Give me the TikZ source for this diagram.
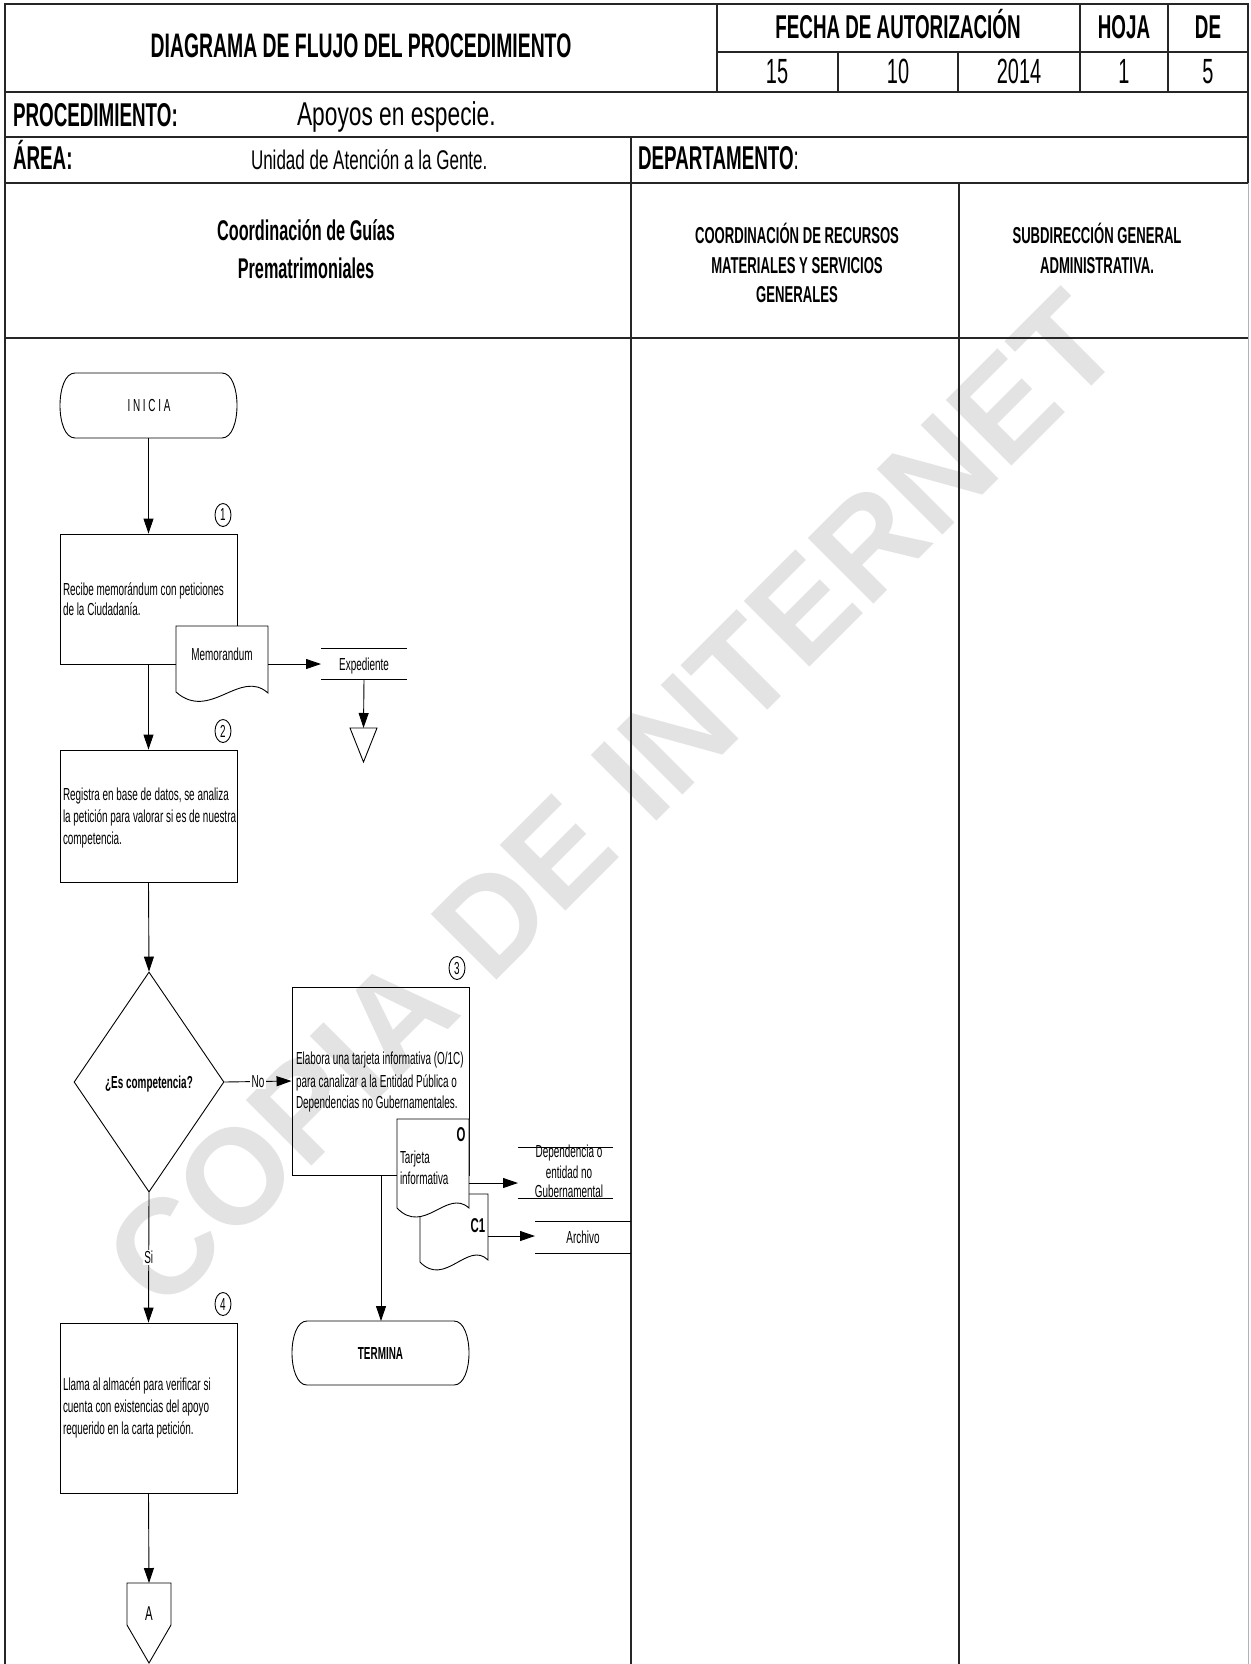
\documentclass[tikz,border=0pt]{standalone}
\usepackage{fontspec}
\setmainfont{Liberation Sans}[FakeStretch=0.57]
\newfontfamily\wmfont{Liberation Sans}
\newfontfamily\apfont{Liberation Sans}[FakeStretch=0.69]
\newfontfamily\unfont{Liberation Sans}[FakeStretch=0.63]
\usetikzlibrary{arrows.meta,shapes.geometric}
\tikzset{
  tbl/.style={line width=1.7pt,draw=black!85},
  ln/.style={line width=0.9pt,draw=black},
  arr/.style={ln,-{Triangle[length=15pt,width=10pt]}},
  boxn/.style={ln,rectangle,minimum width=177pt,inner sep=0pt},
  invis/.style={inner sep=0pt,outer sep=0pt},
  big/.style={invis,font=\fontsize{33}{35}\selectfont\bfseries},
  bigr/.style={invis,font=\fontsize{35}{37}\selectfont},
  lane/.style={invis,anchor=base,font=\fontsize{23}{25}\selectfont\bfseries},
  sm/.style={invis,anchor=base west,font=\fontsize{17.4}{19}\selectfont},
  smc/.style={invis,anchor=base,font=\fontsize{17.4}{19}\selectfont},
  smb/.style={invis,anchor=base,font=\fontsize{17.4}{19}\selectfont\bfseries},
  circ/.style={ln,ellipse,minimum width=16pt,minimum height=23pt,inner sep=0pt,font=\fontsize{17.4}{19}\selectfont},
  docf/.style={ln,fill=white},
  lab/.style={fill=white,inner sep=1.5pt,font=\fontsize{17.4}{19}\selectfont},
  termn/.style={invis,minimum width=177pt},
}
\begin{document}
\begin{tikzpicture}[x=1pt,y=-1pt]
\useasboundingbox (0,0) rectangle (1250,1664);
% watermark
\node[rotate=45,text=black!11,font=\wmfont\fontsize{135}{135}\selectfont\bfseries] (wm) at (612,800) {COPIA DE INTERNET};
% table
\draw[tbl] (5,4) rectangle (1248,92);
\draw[tbl] (717,4) -- (717,92);
\draw[tbl] (717,52) -- (1248,52);
\draw[tbl] (838,52) -- (838,92);
\draw[tbl] (958,52) -- (958,92);
\draw[tbl] (1080,4) -- (1080,92);
\draw[tbl] (1168,4) -- (1168,92);
\draw[tbl] (5,92) -- (5,1664);
\draw[tbl] (1248,92) -- (1248,183);
\draw[black!30,line width=0.8pt] (1248,183) -- (1248,1664);
\draw[tbl] (5,137) -- (1248,137);
\draw[tbl] (5,183) -- (1248,183);
\draw[tbl] (5,338) -- (1248,338);
\draw[tbl] (631,137) -- (631,1664);
\draw[tbl] (959,183) -- (959,1664);
% header texts
\node[invis,anchor=base,font=\fontsize{34}{36}\selectfont\bfseries] (title) at (361,58) {DIAGRAMA DE FLUJO DEL PROCEDIMIENTO};
\node[big,anchor=base] (fecha) at (898,39) {FECHA DE AUTORIZACIÓN};
\node[big,anchor=base] (hoja) at (1124,39) {HOJA};
\node[big,anchor=base] (de) at (1208,39) {DE};
\node[bigr,anchor=base] (d1) at (777,84) {15};
\node[bigr,anchor=base] (d2) at (898,84) {10};
\node[bigr,anchor=base] (d3) at (1019,84) {2014};
\node[bigr,anchor=base] (d4) at (1124,84) {1};
\node[bigr,anchor=base] (d5) at (1208,84) {5};
\node[big,anchor=base west] (proc) at (13,127) {PROCEDIMIENTO:};
\node[invis,anchor=base west,font=\apfont\fontsize{33}{35}\selectfont] (procv) at (297,126) {Apoyos en especie.};
\node[big,anchor=base west] (area) at (13,170) {ÁREA:};
\node[invis,anchor=base west,font=\unfont\fontsize{27}{29}\selectfont] (areav) at (251,170) {Unidad de Atención a la Gente.};
\node[big,anchor=base west] (depto) at (638,170) {DEPARTAMENTO\textmd{:}};
% lane headers
\node[invis,anchor=base,font=\fontsize{28.5}{30}\selectfont\bfseries] (l1a) at (306,240) {Coordinación de Guías};
\node[invis,anchor=base,font=\fontsize{28.5}{30}\selectfont\bfseries] (l1b) at (306,278) {Prematrimoniales};
\node[lane] (l2a) at (797,243) {COORDINACIÓN DE RECURSOS};
\node[lane] (l2b) at (797,273) {MATERIALES Y SERVICIOS};
\node[lane] (l2c) at (797,302) {GENERALES};
\node[lane] (l3a) at (1097,243) {SUBDIRECCIÓN GENERAL};
\node[lane] (l3b) at (1097,273) {ADMINISTRATIVA.};
% start terminal
\node[termn,minimum height=65pt] (ini) at (148.5,405.5) {};
\draw[ln] ([xshift=15pt]ini.north west) -- ([xshift=-15pt]ini.north east)
  .. controls ([xshift=5pt]ini.north east) and ([xshift=5pt]ini.south east) .. ([xshift=-15pt]ini.south east)
  -- ([xshift=15pt]ini.south west)
  .. controls ([xshift=-5pt]ini.south west) and ([xshift=-5pt]ini.north west) .. ([xshift=15pt]ini.north west) -- cycle;
\node[smc] (initxt) at (149,411) {I N I C I A};
% boxes
\node[boxn,draw,minimum height=130pt] (b1) at (148.5,599) {};
\node[boxn,draw,minimum height=132pt] (b2) at (148.5,816) {};
\node[boxn,draw,minimum height=188pt] (b3) at (380.5,1081) {};
\node[boxn,draw,minimum height=170pt] (b4) at (148.5,1408) {};
\node[ln,draw,diamond,minimum width=150pt,minimum height=220pt,inner sep=0pt] (dec) at (149,1082) {};
% documents
\draw[docf] (176,626) -- (268,626) -- (268,693) .. controls (240,668) and (210,722) .. (176,692) -- cycle;
\draw[docf] (420,1194) -- (488,1194) -- (488,1260) .. controls (468,1240) and (445,1288) .. (420,1262) -- cycle;
\draw[docf] (397,1119) -- (469,1119) -- (469,1208) .. controls (447,1188) and (424,1236) .. (397,1208) -- cycle;
\coordinate (memoR) at (268,664);
\coordinate (tjR) at (469,1183);
\coordinate (c1R) at (488,1236);
\coordinate (b3out) at (381,1175);
% store-like labels
\node[invis,minimum width=86pt,minimum height=31pt] (exp) at (364,663.5) {};
\draw[ln] (exp.north west) -- (exp.north east);
\draw[ln] (exp.south west) -- (exp.south east);
\node[smc] (exptxt) at (364,670) {Expediente};
\node[invis,minimum width=95pt,minimum height=51pt] (dep) at (565.5,1172.5) {};
\node[smc] (depa) at (569,1157) {Dependencia o};
\node[smc] (depb) at (569,1178) {entidad no};
\node[smc] (depc) at (569,1197) {Gubernamental};
\draw[ln] (dep.north west) -- (dep.north east);
\draw[ln] (dep.south west) -- (dep.south east);
\node[invis,minimum width=96pt,minimum height=32pt] (arch) at (583,1237) {};
\draw[ln] (arch.north west) -- (arch.north east);
\draw[ln] (arch.south west) -- (arch.south east);
\node[smc] (archtxt) at (583,1243) {Archivo};
% triangle
\coordinate (trTop) at (363.5,728);
\draw[ln] (350,728) -- (377,728) -- (363.5,762) -- cycle;
% end terminal
\node[termn,minimum height=64pt] (ter) at (380.5,1353) {};
\draw[ln] ([xshift=15pt]ter.north west) -- ([xshift=-15pt]ter.north east)
  .. controls ([xshift=5pt]ter.north east) and ([xshift=5pt]ter.south east) .. ([xshift=-15pt]ter.south east)
  -- ([xshift=15pt]ter.south west)
  .. controls ([xshift=-5pt]ter.south west) and ([xshift=-5pt]ter.north west) .. ([xshift=15pt]ter.north west) -- cycle;
\node[smb] (tertxt) at (380.5,1359) {TERMINA};
% off-page connector
\coordinate (aTop) at (149,1583);
\draw[ln] (127,1583) -- (171,1583) -- (171,1625) -- (149,1663) -- (127,1625) -- cycle;
\node[invis,anchor=base,font=\fontsize{20}{22}\selectfont] (conA) at (149,1620) {A};
% circles
\node[circ] (n1) at (223,515) {1};
\node[circ] (n2) at (223,731) {2};
\node[circ] (n3) at (457,968) {3};
\node[circ] (n4) at (223,1304) {4};
% texts
\node[sm] (t1a) at (63,595) {Recibe memorándum con peticiones};
\node[sm] (t1b) at (63,615) {de la Ciudadanía.};
\node[smc] (memotxt) at (222,660) {Memorandum};
\node[sm] (t2a) at (63,800) {Registra en base de datos, se analiza};
\node[sm] (t2b) at (63,822) {la petición para valorar si es de nuestra};
\node[sm] (t2c) at (63,844) {competencia.};
\node[smb] (dectxt) at (149,1088) {¿Es competencia?};
\node[sm] (t3a) at (296,1064) {Elabora una tarjeta informativa (O/1C)};
\node[sm] (t3b) at (296,1087) {para canalizar a la Entidad Pública o};
\node[sm] (t3c) at (296,1108) {Dependencias no Gubernamentales.};
\node[invis,anchor=base,font=\fontsize{20}{22}\selectfont\bfseries] (tjO) at (461,1141) {O};
\node[sm] (tja) at (400,1163) {Tarjeta};
\node[sm] (tjb) at (400,1184) {informativa};
\node[invis,anchor=base,font=\fontsize{20}{22}\selectfont\bfseries] (c1) at (478,1232) {C1};
\node[sm] (t4a) at (63,1390) {Llama al almacén para verificar si};
\node[sm] (t4b) at (63,1412) {cuenta con existencias del apoyo};
\node[sm] (t4c) at (63,1434) {requerido en la carta petición.};
% connectors
\draw[arr] (ini.south) -- (b1.north);
\draw[arr] (b1.south) -- (b2.north);
\draw[arr] (b2.south) -- (dec.north);
\draw[arr] (dec.east) -- node[lab] (no) {No} (b3.west);
\draw[arr] (dec.south) -- node[lab] (si) {Si} (b4.north);
\draw[arr] (b4.south) -- (aTop);
\draw[arr] (memoR) -- (memoR -| exp.west);
\draw[arr] (exp.south) -- (trTop);
\draw[arr] (b3out) -- (b3out |- ter.north);
\draw[arr] (tjR) -- (tjR -| dep.west);
\draw[arr] (c1R) -- (c1R -| arch.west);
\end{tikzpicture}
\end{document}
